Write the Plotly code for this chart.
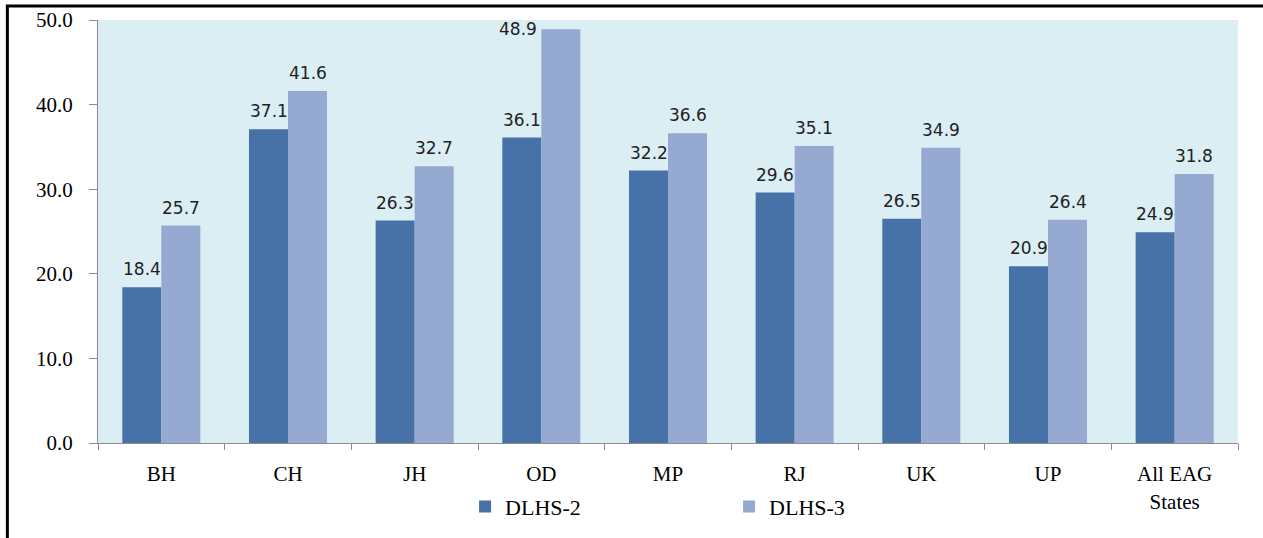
import plotly.graph_objects as go

categories = ["BH", "CH", "JH", "OD", "MP", "RJ", "UK", "UP", "All EAG<br>States"]
dlhs2 = [18.4, 37.1, 26.3, 36.1, 32.2, 29.6, 26.5, 20.9, 24.9]
dlhs3 = [25.7, 41.6, 32.7, 48.9, 36.6, 35.1, 34.9, 26.4, 31.8]
y_ticks = [0, 10, 20, 30, 40, 50]

dark = "#4672A8"
light = "#95A9D1"

fig = go.Figure()
fig.add_trace(go.Bar(x=categories, y=dlhs2, name="DLHS-2", marker=dict(color=dark, line=dict(width=0))))
fig.add_trace(go.Bar(x=categories, y=dlhs3, name="DLHS-3", marker=dict(color=light, line=dict(width=0))))

label_font = dict(family="DejaVu Sans", size=17, color="#222222")
annotations = []
for i, c in enumerate(categories):
    for vals, shift in ((dlhs2, -19.5), (dlhs3, 19.5)):
        v = vals[i]
        if v > 46:
            annotations.append(dict(x=c, y=v, xref="x", yref="y", text=f"{v:.1f}", showarrow=False,
                                    xshift=shift - 22, yshift=0, xanchor="right", yanchor="middle", font=label_font))
        else:
            annotations.append(dict(x=c, y=v, xref="x", yref="y", text=f"{v:.1f}", showarrow=False,
                                    xshift=shift, yshift=6, xanchor="center", yanchor="bottom", font=label_font))

serif = "Liberation Serif"
fig.update_layout(
    width=1263, height=538,
    margin=dict(l=98, r=25, t=20, b=95, autoexpand=False),
    paper_bgcolor="white",
    plot_bgcolor="#DBEEF3",
    barmode="group",
    bargap=0.384,
    bargroupgap=0,
    annotations=annotations,
    showlegend=True,
    legend=dict(orientation="h", x=0.322, xanchor="left", y=-0.101, yanchor="top",
                font=dict(family=serif, size=22, color="black"),
                entrywidth=219, entrywidthmode="pixels", itemwidth=30,
                bgcolor="rgba(0,0,0,0)"),
    font=dict(family=serif, color="black"),
    shapes=[dict(type="rect", xref="paper", yref="paper", x0=-0.0795, x1=1.05, y0=-0.3, y1=1.033,
                 line=dict(color="black", width=3), fillcolor="rgba(0,0,0,0)", layer="above")],
)
fig.update_xaxes(
    showline=True, linecolor="#8C8C8C", linewidth=1, automargin=False,
    ticks="outside", tickson="boundaries", ticklen=6, tickcolor="#8C8C8C",
    tickfont=dict(family=serif, size=21, color="black"),
    showgrid=False, fixedrange=True, ticklabelstandoff=12,
)
fig.update_yaxes(
    range=[0, 50], tickvals=y_ticks, ticktext=[f"{t:.1f}" for t in y_ticks],
    showline=True, linecolor="#8C8C8C", linewidth=1, automargin=False,
    ticks="outside", ticklen=8, tickcolor="#8C8C8C",
    tickfont=dict(family=serif, size=21, color="black"),
    showgrid=False, zeroline=False, ticklabelstandoff=12,
)
fig.write_html("out.html")
